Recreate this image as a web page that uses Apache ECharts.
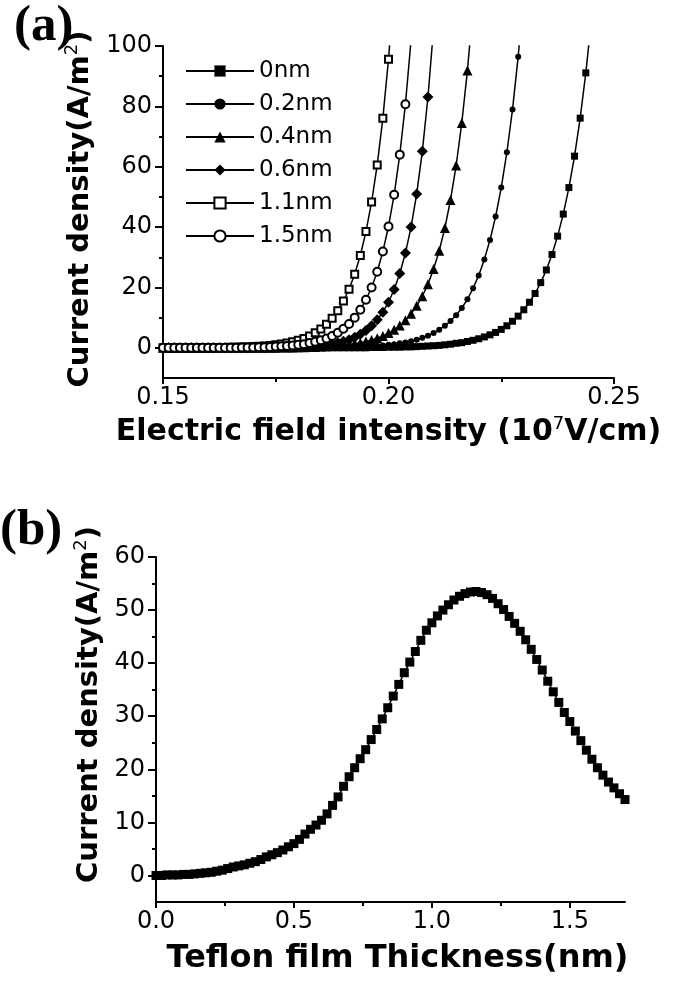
<!DOCTYPE html>
<html>
<head>
<meta charset="utf-8">
<script src="https://cdn.jsdelivr.net/npm/echarts@6/dist/echarts.min.js"></script>
<style>
html,body{margin:0;padding:0;background:#fff;}
#c{width:678px;height:983px;}
</style>
</head>
<body>
<div id="c"></div>
<script>
// ---- Panel (a): electric field (10^7 V/cm) grid ----
const fieldE = [0.15,0.15125,0.1525,0.15375,0.155,0.15625,0.1575,0.15875,0.16,0.16125,
0.1625,0.16375,0.165,0.16625,0.1675,0.16875,0.17,0.17125,0.1725,0.17375,
0.175,0.17625,0.1775,0.17875,0.18,0.18125,0.1825,0.18375,0.185,0.18625,
0.1875,0.18875,0.19,0.19125,0.1925,0.19375,0.195,0.19625,0.1975,0.19875,
0.2,0.20125,0.2025,0.20375,0.205,0.20625,0.2075,0.20875,0.21,0.21125,
0.2125,0.21375,0.215,0.21625,0.2175,0.21875,0.22,0.22125,0.2225,0.22375,
0.225,0.22625,0.2275,0.22875,0.23,0.23125,0.2325,0.23375,0.235,0.23625,
0.2375,0.23875,0.24,0.24125,0.2425,0.24375,0.245];

// current density (A/m^2) for each Teflon thickness
const j0nm = [0,0,0,0,0,0,0,0,0,0, 0,0,0,0,0,0,0,0,0,0, 0,0,0,0,0,0,0,0,0,0, 0,0,0,0,0,0,0,
0.1,0.1,0.1,0.2,0.2,0.2,0.3,0.3,0.4,0.5,0.6,0.7,0.8,1.0,1.2,1.5,1.7,2.1,2.5,3.0,3.6,4.3,5.1,6.1,7.3,8.8,10.5,12.6,15.1,18.0,21.6,25.8,30.9,37.0,44.3,53.1,63.5,76.1,91.1,109.0];
const j02nm = [0,0,0,0,0,0,0,0,0,0, 0,0,0,0,0,0,0,0,0,0, 0,0,0,0,0,0,0,0,
0.1,0.1,0.1,0.2,0.2,0.2,0.3,0.4,0.4,0.5,0.7,0.8,1.0,1.2,1.5,1.8,2.2,2.7,3.3,4.0,4.9,6.0,7.3,8.9,10.8,13.2,16.1,19.7,24.0,29.3,35.7,43.5,53.1,64.8,79.0,96.4,117.6];
const j04nm = [0,0,0,0,0,0,0,0,0,0, 0,0,0,0,0,0,0,0,0,0, 0,
0.1,0.1,0.1,0.2,0.2,0.3,0.3,0.4,0.5,0.6,0.7,0.9,1.1,1.4,1.7,2.1,2.6,3.2,3.9,4.9,6.0,7.4,9.1,11.3,13.9,17.1,21.1,26.1,32.2,39.7,49.0,60.4,74.5,91.9,113.4];
const j06nm = [0,0,0,0,0,0,0,0,0,0, 0,0,0,0,0,0,0,0,0,
0.1,0.1,0.2,0.2,0.2,0.3,0.4,0.5,0.6,0.8,1.0,1.3,1.7,2.2,2.7,3.5,4.5,5.7,7.3,9.3,11.8,15.1,19.3,24.6,31.4,40.0,51.0,65.1,83.1,106.0];
const j11nm = [0,0,0,0,0,0,0,0,0,
0.1,0.1,0.1,0.2,0.2,0.3,0.3,0.4,0.5,0.6,0.8,1.0,1.3,1.6,2.0,2.5,3.1,3.9,5.0,6.2,7.8,9.8,12.3,15.5,19.4,24.4,30.6,38.5,48.3,60.6,76.1,95.6,120.0];
const j15nm = [0,0,0,0,0,0,0,0,0,0, 0,0,0,0,
0.1,0.1,0.1,0.2,0.2,0.3,0.4,0.5,0.6,0.8,1.0,1.2,1.6,2.0,2.5,3.1,3.9,5.0,6.3,7.9,10.0,12.6,15.9,20.0,25.2,31.9,40.2,50.7,64.0,80.7,101.9];
const seriesNames = ['0nm','0.2nm','0.4nm','0.6nm','1.1nm','1.5nm'];

const aXTicks = [0.15,0.20,0.25];
const aXMinor = [0.175,0.225];
const aYTicks = [0,20,40,60,80,100];
const aYMinor = [10,30,50,70,90];

// ---- Panel (b): current density vs Teflon thickness ----
const thick = [0,0.02,0.04,0.06,0.08,0.1,0.12,0.14,0.16,0.18,
0.2,0.22,0.24,0.26,0.28,0.3,0.32,0.34,0.36,0.38,
0.4,0.42,0.44,0.46,0.48,0.5,0.52,0.54,0.56,0.58,
0.6,0.62,0.64,0.66,0.68,0.7,0.72,0.74,0.76,0.78,
0.8,0.82,0.84,0.86,0.88,0.9,0.92,0.94,0.96,0.98,
1.0,1.02,1.04,1.06,1.08,1.1,1.12,1.14,1.16,1.18,
1.2,1.22,1.24,1.26,1.28,1.3,1.32,1.34,1.36,1.38,
1.4,1.42,1.44,1.46,1.48,1.5,1.52,1.54,1.56,1.58,
1.6,1.62,1.64,1.66,1.68,1.7];
const jThick = [0.0,0.0,0.1,0.1,0.1,0.2,0.2,0.3,0.4,0.5,
0.6,0.8,1.0,1.3,1.6,1.8,2.0,2.3,2.6,3.0,
3.5,3.9,4.3,4.8,5.4,6.0,6.8,7.8,8.7,9.5,
10.4,11.6,13.2,14.8,16.8,18.6,20.3,22.0,23.7,25.6,
27.5,29.5,31.6,33.8,36.0,38.2,40.2,42.2,44.3,46.2,
47.6,48.9,50.0,51.0,51.9,52.6,53.1,53.4,53.5,53.3,
52.9,52.2,51.2,50.1,48.8,47.5,46.0,44.4,42.6,40.7,
38.7,36.6,34.6,32.6,30.7,29.0,27.2,25.4,23.6,21.9,
20.3,18.9,17.6,16.5,15.4,14.3];

const bXTicks = [0,0.5,1.0,1.5];
const bXMinor = [0.25,0.75,1.25];
const bYTicks = [0,10,20,30,40,50,60];
const bYMinor = [5,15,25,35,45,55];

// ---- styling ----
const TICKFONT = '"DejaVu Sans"';
const TITLEFONT = '"DejaVu Sans"';
const BLACK = '#000';
const TICKSIZE = 24;

function pairs(xs, ys){ return ys.map((v,i)=>[xs[i], v]); }

function majorAxis(extra){
  return Object.assign({
    type:'value',
    axisLine:{show:true, onZero:false, lineStyle:{color:BLACK, width:2}},
    splitLine:{show:false}
  }, extra);
}
function minorAxis(extra){
  return Object.assign({
    type:'value',
    axisLine:{show:false, onZero:false},
    splitLine:{show:false},
    axisLabel:{show:false},
    name:''
  }, extra);
}

const allJ = [j0nm, j02nm, j04nm, j06nm, j11nm, j15nm];
const symbols = ['rect','circle','triangle','diamond','emptyRect','emptyCircle'];
const sizes = [7,6,10,11,7,8];

const aSeries = allJ.map((vals, idx)=>({
  name: seriesNames[idx],
  type:'line',
  xAxisIndex:0, yAxisIndex:0,
  data: pairs(fieldE, vals),
  symbol: symbols[idx],
  symbolSize: sizes[idx],
  showSymbol:true,
  clip:true,
  itemStyle:{color:BLACK, borderColor:BLACK, borderWidth: idx>=4 ? 1.6 : 0},
  lineStyle:{color:BLACK, width:1.5},
  emphasis:{disabled:true}
}));

const bSeries = {
  type:'line',
  xAxisIndex:2, yAxisIndex:2,
  data: pairs(thick, jThick),
  symbol:'rect', symbolSize:9,
  itemStyle:{color:BLACK},
  lineStyle:{color:BLACK, width:1.5},
  emphasis:{disabled:true}
};

const richSup = (size)=>({
  n:{fontFamily:TITLEFONT, fontWeight:'bold', fontSize:size, color:BLACK, lineHeight:34},
  s:{fontFamily:TITLEFONT, fontSize:18, color:BLACK, verticalAlign:'top', lineHeight:20}
});

const chart = echarts.init(document.getElementById('c'), null, {renderer:'canvas'});
chart.setOption({
  animation:false,
  backgroundColor:'#fff',
  grid:[
    {left:163, top:46, width:451, height:332},
    {left:156, top:557, width:469, height:345}
  ],
  legend:{
    data: seriesNames,
    orient:'vertical',
    left:180, top:54,
    itemWidth:68, itemHeight:14, itemGap:9,
    textStyle:{color:BLACK, fontFamily:TICKFONT, fontSize:23, lineHeight:24},
    selectedMode:false
  },
  xAxis:[
    majorAxis({gridIndex:0, min:0.15, max:0.25,
      axisTick:{show:true, inside:false, length:6, customValues:aXTicks, lineStyle:{color:BLACK,width:2}},
      axisLabel:{color:BLACK, fontFamily:TICKFONT, fontSize:TICKSIZE, margin:8, customValues:aXTicks, formatter:v=>v.toFixed(2)},
      name:'{n|Electric field intensity (10}{s|7}{n|V/cm)}',
      nameLocation:'middle', nameGap:37,
      nameTextStyle:{rich:richSup(30)}
    }),
    minorAxis({gridIndex:0, min:0.15, max:0.25, position:'bottom',
      axisTick:{show:true, length:4, customValues:aXMinor, lineStyle:{color:BLACK,width:2}}}),
    majorAxis({gridIndex:1, min:0, max:1.7,
      axisTick:{show:true, inside:false, length:6, customValues:bXTicks, lineStyle:{color:BLACK,width:2}},
      axisLabel:{color:BLACK, fontFamily:TICKFONT, fontSize:TICKSIZE, margin:8, customValues:bXTicks, formatter:v=>v.toFixed(1)},
      name:'Teflon film Thickness(nm)',
      nameLocation:'middle', nameGap:41,
      nameTextStyle:{fontFamily:TITLEFONT, fontWeight:'bold', fontSize:32, color:BLACK, padding:[0,0,0,14]}
    }),
    minorAxis({gridIndex:1, min:0, max:1.7, position:'bottom',
      axisTick:{show:true, length:4, customValues:bXMinor, lineStyle:{color:BLACK,width:2}}})
  ],
  yAxis:[
    majorAxis({gridIndex:0, min:-10, max:100,
      axisTick:{show:true, inside:false, length:8, customValues:aYTicks, lineStyle:{color:BLACK,width:2}},
      axisLabel:{color:BLACK, fontFamily:TICKFONT, fontSize:TICKSIZE, margin:11, customValues:aYTicks},
      name:'{n|Current density(A/m}{s|2}{n|)}',
      nameLocation:'middle', nameGap:48,
      nameTextStyle:{padding:[0,0,0,6], rich:richSup(29)}
    }),
    minorAxis({gridIndex:0, min:-10, max:100, position:'left', offset:0,
      axisTick:{show:true, length:4, customValues:aYMinor, lineStyle:{color:BLACK,width:2}}}),
    majorAxis({gridIndex:1, min:-5, max:60,
      axisTick:{show:true, inside:false, length:8, customValues:bYTicks, lineStyle:{color:BLACK,width:2}},
      axisLabel:{color:BLACK, fontFamily:TICKFONT, fontSize:TICKSIZE, margin:11, customValues:bYTicks},
      name:'{n|Current density(A/m}{s|2}{n|)}',
      nameLocation:'middle', nameGap:44,
      nameTextStyle:{padding:[0,0,0,50], rich:richSup(29)}
    }),
    minorAxis({gridIndex:1, min:-5, max:60, position:'left', offset:0,
      axisTick:{show:true, length:4, customValues:bYMinor, lineStyle:{color:BLACK,width:2}}})
  ],
  graphic:[
    {type:'text', left:14, top:1, style:{text:'(a)', font:'bold 51px "Liberation Serif"', fill:BLACK}},
    {type:'text', left:0, top:505, style:{text:'(b)', font:'bold 51px "Liberation Serif"', fill:BLACK}}
  ],
  series: aSeries.concat([bSeries])
});
</script>
</body>
</html>
